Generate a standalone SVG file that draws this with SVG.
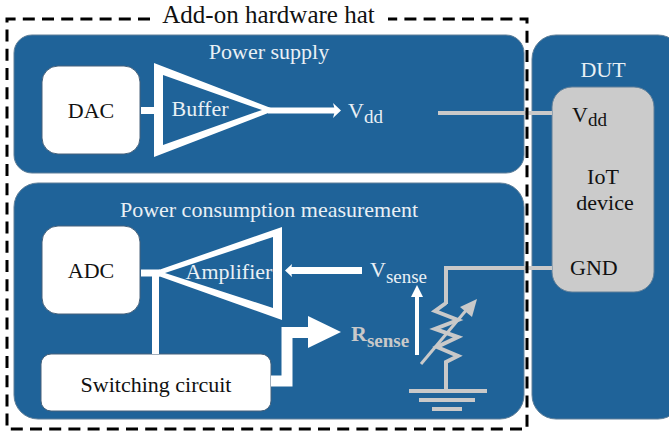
<svg xmlns="http://www.w3.org/2000/svg" width="669" height="431" viewBox="0 0 669 431">
<style>
.panel{fill:#1f6399;stroke:#5f7f99;stroke-width:1}
.box{fill:#fff;stroke:#46617a;stroke-width:1}
text{font-family:"Liberation Serif","Times New Roman",serif;font-size:22px}
.w{fill:#e9f0f5}
.k{fill:#111}
.g{fill:#c9c9c9}
.wl{fill:none;stroke:#fff}
.gl{fill:none;stroke:#c9c9c9}
.head{fill:#fff}
.sub{font-size:19px}
</style>
<rect width="669" height="431" fill="#fff"/>
<g id="dut-panel"><rect class="panel" x="532" y="35" width="150" height="384" rx="24"/><text class="w" x="603" y="77" text-anchor="middle">DUT</text></g>
<g id="power-supply"><rect class="panel" x="14" y="35" width="510" height="138" rx="18"/><text class="w" x="269" y="59" text-anchor="middle">Power supply</text></g>
<g id="measurement"><rect class="panel" x="14" y="183" width="510" height="236" rx="24"/><text class="w" x="269" y="217" text-anchor="middle">Power consumption measurement</text></g>
<g id="iot-device"><rect x="552" y="87" width="102" height="205" rx="20" fill="#cbcbcb" stroke="#5f7f99"/>
<text class="k" x="572" y="122">V<tspan class="sub" dy="4">dd</tspan></text>
<text class="k" x="603" y="184" text-anchor="middle">IoT</text><text class="k" x="605" y="210" text-anchor="middle">device</text>
<text class="k" x="570" y="275">GND</text></g>
<g id="dac"><rect class="box" x="42" y="66" width="98" height="88" rx="16"/><text class="k" x="91" y="118" text-anchor="middle">DAC</text></g>
<g id="adc"><rect class="box" x="42" y="226" width="98" height="88" rx="16"/><text class="k" x="91" y="278" text-anchor="middle">ADC</text></g>
<g id="switching"><rect class="box" x="41" y="354" width="230" height="57" rx="10"/><text class="k" x="156" y="392" text-anchor="middle">Switching circuit</text></g>
<g id="buffer"><path fill="#fff" fill-rule="evenodd" d="M154 63V157L276 110ZM163 75V145L262 110Z"/><text class="w" x="200" y="116" text-anchor="middle">Buffer</text></g>
<g id="amplifier"><path fill="#fff" fill-rule="evenodd" d="M282 227V320L150 273ZM273 237V308L165 273Z"/><text class="w" x="229" y="279" text-anchor="middle">Amplifier</text></g>
<g id="connectors">
<path class="wl" stroke-width="7" d="M141 110.500H155"/>
<path class="wl" stroke-width="6" d="M268 110.500H336"/>
<path class="head" d="M333 103L341 110.500L333 118L335 110.500Z"/>
<path class="wl" stroke-width="7" d="M141 273H160"/>
<path class="wl" stroke-width="7" d="M155.500 273V354"/>
<path class="wl" stroke-width="7" d="M362 270.500H290"/>
<path class="head" d="M292 264L285 270.500L292 277L291 270.500Z"/>
<path class="wl" stroke-width="11" d="M271 381H287V332.500H310"/>
<path class="head" d="M308 316L341 332L308 348Z"/>
<path class="wl" stroke-width="4" d="M417 355V292"/>
<path class="head" d="M411 297L417 285L423 297Z"/>
<path class="gl" stroke-width="4" d="M438 113H552"/>
<path class="gl" stroke-width="4" d="M552 268H446V304"/>
<path class="gl" stroke-width="4" d="M446 303L435 311L458 320L435 329L458 337L437 347L458 356L446 362V391"/>
<path class="gl" stroke-width="3" d="M421 364L468 308"/>
<path d="M477 299L472 317L460 307Z" class="g"/>
<path class="gl" stroke-width="4" d="M409 391H487M419 400H475M432 409H462"/>
</g>
<g id="labels">
<text class="w" x="348" y="118">V<tspan class="sub" dy="5">dd</tspan></text>
<text class="w" x="370" y="277">V<tspan class="sub" dy="6">sense</tspan></text>
<text x="351" y="341" font-weight="bold" class="g">R<tspan class="sub" dy="6">sense</tspan></text>
</g>
<g id="hat"><path fill="none" stroke="#000" stroke-width="3" stroke-dasharray="12 7.200" d="M150 19H7V429H527V19H388"/>
<text x="268.500" y="23" style="font-size:25px" fill="#111" text-anchor="middle">Add-on hardware hat</text></g>
</svg>
